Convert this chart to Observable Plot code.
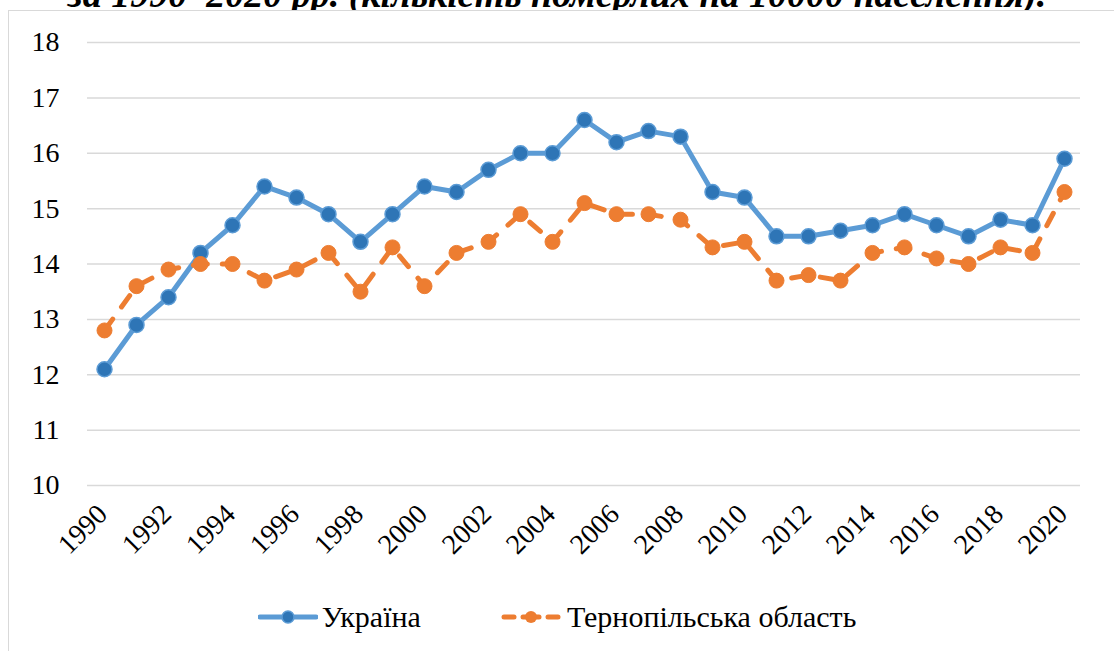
<!DOCTYPE html>
<html>
<head>
<meta charset="utf-8">
<script src="https://cdn.jsdelivr.net/npm/d3@7"></script>
<script src="https://cdn.jsdelivr.net/npm/@observablehq/plot@0.6"></script>
</head>
<body style="margin:0;background:#fff">
<div id="title" style="position:absolute;left:0;top:-25px;width:1114px;text-align:center;font-family:'Liberation Serif','Times New Roman','DejaVu Serif',serif;font-size:38px;line-height:38px;font-weight:bold;font-style:italic;color:#000;white-space:nowrap">за 1990–2020 рр. (кількість померлих на 10000 населення).</div>
<div id="frame" style="position:absolute;left:8px;top:10px;width:1106px;height:641px;border-left:1.5px solid #d9d9d9;border-top:1.5px solid #d9d9d9;background:#fff;box-sizing:border-box"></div>
<div id="chart" style="position:absolute;left:0;top:0"></div>
<div id="legend" style="position:absolute;left:0;top:600px;width:1114px;display:flex;justify-content:center;align-items:center;font-family:'Liberation Serif','Times New Roman','DejaVu Serif',serif;font-size:30px;color:#000"></div>
<script>
const years = [1990,1991,1992,1993,1994,1995,1996,1997,1998,1999,2000,2001,2002,2003,2004,2005,2006,2007,2008,2009,2010,2011,2012,2013,2014,2015,2016,2017,2018,2019,2020];
const ukraine = [12.1,12.9,13.4,14.2,14.7,15.4,15.2,14.9,14.4,14.9,15.4,15.3,15.7,16.0,16.0,16.6,16.2,16.4,16.3,15.3,15.2,14.5,14.5,14.6,14.7,14.9,14.7,14.5,14.8,14.7,15.9];
const ternopil = [12.8,13.6,13.9,14.0,14.0,13.7,13.9,14.2,13.5,14.3,13.6,14.2,14.4,14.9,14.4,15.1,14.9,14.9,14.8,14.3,14.4,13.7,13.8,13.7,14.2,14.3,14.1,14.0,14.3,14.2,15.3];
const seriesNames = ["Україна", "Тернопільська область"];
const yTicks = [10,11,12,13,14,15,16,17,18];
const xTicks = years.filter(y => y % 2 === 0);

const blueLine = "#5B9BD5", blueDot = "#2E75B6", orange = "#ED7D31";
const serif = "'Liberation Serif', 'Times New Roman', 'DejaVu Serif', serif";

const dUA = years.map((y, i) => ({year: y, value: ukraine[i]}));
const dTE = years.map((y, i) => ({year: y, value: ternopil[i]}));

const chart = Plot.plot({
  width: 1114,
  height: 600,
  marginLeft: 87,
  marginRight: 34,
  marginTop: 42,
  marginBottom: 115,
  style: {fontFamily: serif, fontSize: "28px", color: "#000", background: "transparent", overflow: "visible"},
  x: {type: "point", domain: years, padding: 0.5, label: null},
  y: {domain: [10, 18], label: null},
  marks: [
    Plot.gridY(yTicks, {stroke: "#d9d9d9", strokeOpacity: 1, strokeWidth: 1.5}),
    Plot.axisY(yTicks, {tickSize: 0, tickPadding: 28, fontSize: 28, fill: "#000", label: null, tickFormat: d => String(d)}),
    Plot.axisX(xTicks, {tickSize: 0, tickPadding: 8, tickRotate: -45, textAnchor: "end", fontSize: 28, fill: "#000", label: null, tickFormat: d => String(d), dx: -2, dy: 16}),
    Plot.line(dUA, {x: "year", y: "value", stroke: blueLine, strokeWidth: 5, strokeLinejoin: "round"}),
    Plot.dot(dUA, {x: "year", y: "value", r: 7.5, fill: blueDot, stroke: blueLine, strokeWidth: 1.5}),
    Plot.line(dTE, {x: "year", y: "value", stroke: orange, strokeWidth: 5, strokeLinejoin: "round", strokeLinecap: "round", strokeDasharray: "14,15"}),
    Plot.dot(dTE, {x: "year", y: "value", r: 7.5, fill: orange, stroke: orange, strokeWidth: 1})
  ]
});
document.getElementById("chart").appendChild(chart);

const legend = document.getElementById("legend");
const swatches = [
  `<svg width="60" height="20" style="margin-right:4px"><line x1="2" y1="10" x2="58" y2="10" stroke="${blueLine}" stroke-width="5" stroke-linecap="round"/><circle cx="30" cy="10" r="6" fill="${blueDot}" stroke="${blueLine}" stroke-width="1.5"/></svg>`,
  `<svg width="60" height="20" style="margin-right:6px"><line x1="3" y1="10" x2="13" y2="10" stroke="${orange}" stroke-width="5" stroke-linecap="round"/><line x1="22" y1="10" x2="38" y2="10" stroke="${orange}" stroke-width="5" stroke-linecap="round"/><line x1="47" y1="10" x2="57" y2="10" stroke="${orange}" stroke-width="5" stroke-linecap="round"/><circle cx="30" cy="10" r="6" fill="${orange}"/></svg>`
];
seriesNames.forEach((name, i) => {
  const it = document.createElement("div");
  it.style.display = "flex";
  it.style.alignItems = "center";
  it.style.margin = "0 40px";
  it.innerHTML = swatches[i] + `<span>${name}</span>`;
  legend.appendChild(it);
});
</script>
</body>
</html>
